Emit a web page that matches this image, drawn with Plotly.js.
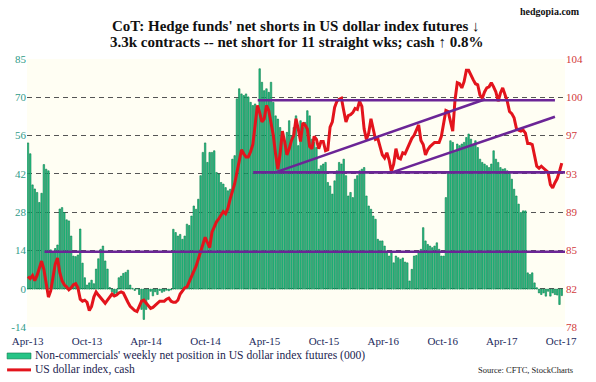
<!DOCTYPE html>
<html>
<head>
<meta charset="utf-8">
<script src="https://cdn.plot.ly/plotly-3.0.1.min.js"></script>
<style>
  html, body { margin: 0; padding: 0; background: #ffffff; }
  #chart { width: 596px; height: 382px; }
</style>
</head>
<body>
<div id="chart"></div>
<script>
// ---- DATA ----
const startDate = '2013-04-02';   // first weekly observation (Tuesday)

// Non-commercials' weekly net position in US dollar index futures (000 contracts)
const netPosition = [
  54, 50, 38.5, 37, 35.7, 32, 35.4, 46, 44.3, 43.7, 14.5, 13.8, 15, 16.3, 29.6, 30.1, 28.3, 25.6, 25.2, 19.6,
  12.2, 12, 12.6, 22.2, 9.6, 4.2, 1.5, 2.3, 3.3, 2, 7.4, 11.2, 14.7, 15.9, 10.4, 7.4, 0.6, -1, -2.6,
  -1.5, 4.2, 4.8, 5.8, 6.2, 7.0, 1.5, 0.3, -0.5, 0.2, -2, -7.5, -11.2, -7.5, -3.8, -0.8, -2.5, -1, -2, -0.5,
  -1.2, -0.8, -0.4, -0.6, -0.3, 22.1, 20.9, 19.6, 20.2, 18.4, 19.6, 24, 23.5, 27, 30.7, 29.5, 33.2, 41.9, 50.5, 54,
  46.8, 50.5, 50.5, 51.1, 43.1, 42.5, 39.4, 38.8, 37.5, 36.3, 36.9, 48, 49.3, 70.3, 74, 72.1, 71.5, 72.1, 71, 69,
  67.8, 68.4, 66.5, 81.4, 76.4, 73.3, 74, 72.7, 76.4, 69, 64, 62.8, 59.7, 55.4, 54.2, 57.9, 62.2, 56.7, 59.7, 64,
  53, 62.2, 59.7, 61.6, 65.9, 64, 55.4, 54.2, 52.3, 44.3, 45.6, 46.2, 46.8, 39.4, 38.1, 35.1, 40, 43.7, 46.8, 46.2,
  48, 41.9, 34.4, 35.7, 33.8, 40.6, 41.9, 43.7, 44.3, 44.9, 34.4, 30.7, 29.5, 27, 25.8, 18.4, 17.8, 17.8, 15.9,
  13.5, 12.2, 13.5, 9.7, 12.2, 11.6, 11, 11.5, 10, 9.7, 3, 7.3, 12.2, 12.4, 13.5, 14.7, 22.7, 17.8, 16.5, 15.9,
  15.3, 15.9, 17.1, 14.7, 12.2, 12.2, 33.8, 43.1, 54.8, 54.2, 50.5, 53.6, 53, 53.6, 54.2, 56, 57.3, 55.4, 53.6, 54.8,
  52.3, 48, 46.8, 46.2, 45.6, 44.9, 46.2, 51.1, 48, 46.8, 44.9, 44.3, 44.5, 43.7, 43.1, 40.6, 36.9, 34.4, 31.4, 28.3,
  28.9, 28.9, 6, 5.4, 6, 2.3, 0.5, -1.4, -2, -1.4, -2.6, -0.8, -2.6, -1.4, -2, -2.2, -5.7, -2.4
];

// US dollar index, cash (weekly)
const dollarIndex = [
  82.9, 82.7, 83.0, 82.5, 83.0, 83.7, 84.4, 83.6, 82.0, 80.9, 81.5, 83.0, 84.1, 84.7, 83.3, 82.5, 82.1, 81.9, 81.6, 81.8,
  82.1, 82.2, 81.8, 80.7, 80.5, 80.6, 80.4, 79.6, 80.0, 80.9, 81.4, 81.1, 80.8, 80.5, 80.3, 80.6, 80.9, 81.2, 81.0,
  81.1, 81.3, 81.4, 81.3, 80.8, 80.4, 80.0, 79.8, 79.6, 79.5, 80.1, 80.5, 80.6, 80.3, 80.0, 79.8, 79.9, 80.1, 80.3, 80.5,
  80.5, 80.5, 80.7, 80.8, 80.5, 80.4, 80.4, 80.6, 81.2, 81.5, 81.8, 81.9, 82.4, 82.8, 83.3, 83.9, 84.6, 85.3, 86.0, 86.7,
  86.2, 85.7, 87.2, 87.8, 88.2, 88.5, 88.8, 89.2, 89.0, 89.5, 90.4, 91.2, 91.9, 93.0, 94.3, 95.2, 94.8, 94.5, 94.5, 95.0,
  95.7, 97.8, 99.5, 98.8, 97.9, 98.2, 99.5, 99.0, 97.9, 96.6, 94.8, 93.3, 94.8, 97.0, 96.0, 94.7, 95.3, 96.1, 96.6, 98.2,
  97.2, 96.0, 97.8, 97.6, 97.2, 95.5, 95.3, 96.5, 96.2, 95.3, 96.0, 96.0, 95.1, 95.2, 97.4, 97.9, 99.3, 99.9, 100.1, 100.2,
  99.0, 97.9, 98.5, 98.6, 98.8, 99.2, 99.1, 99.9, 99.4, 97.2, 96.2, 96.8, 98.2, 97.2, 96.2, 96.3, 95.6, 94.7, 94.4,
  94.9, 94.2, 93.1, 93.8, 95.3, 94.4, 94.3, 94.9, 94.8, 95.3, 95.9, 96.3, 96.6, 97.1, 97.6, 96.1, 95.7, 94.7, 95.2, 95.5,
  95.7, 95.9, 95.9, 95.9, 96.5, 97.8, 99.0, 98.9, 98.0, 97.0, 100.0, 101.7, 101.6, 101.2, 101.8, 102.9, 102.9, 102.4, 102.0, 101.6,
  101.5, 100.5, 100.2, 100.8, 101.2, 101.3, 101.7, 101.3, 100.8, 99.9, 100.7, 101.2, 100.5, 99.9, 98.9, 98.7, 98.3, 97.3, 97.1, 97.0,
  97.1, 96.8, 95.8, 95.8, 95.7, 94.7, 93.6, 93.4, 93.6, 93.4, 93.2, 93.0, 91.8, 91.5, 92.0, 92.4, 93.1, 93.9
];

// Trend / support / resistance lines drawn on the dollar index (dates, values)
const supportLowDates   = ['2013-05-23', '2017-10-13'];
const supportLowValues  = [85.3, 85.3];
const support93Dates    = ['2015-02-25', '2017-10-13'];
const support93Values   = [93.0, 93.0];
const resist100Dates    = ['2015-03-11', '2017-09-12'];
const resist100Values   = [100.0, 100.0];
const channelUpperDates = ['2015-05-09', '2017-02-09'];
const channelUpperValues= [93.05, 100.1];
const channelLowerDates = ['2016-04-28', '2017-09-12'];
const channelLowerValues= [93.0, 98.4];

// Axis tick labels
const xTickVals = ['2013-04-01','2013-10-01','2014-04-01','2014-10-01','2015-04-01','2015-10-01','2016-04-01','2016-10-01','2017-04-01','2017-10-01'];
const xTickText = ['Apr-13','Oct-13','Apr-14','Oct-14','Apr-15','Oct-15','Apr-16','Oct-16','Apr-17','Oct-17'];
const leftTickVals  = [-14, 0.143, 14.286, 28.429, 42.571, 56.714, 70.857, 85];
const leftTickText  = ['-14','0','14','28','42','56','70','85'];
const rightTickVals = [78, 81.714, 85.429, 89.143, 92.857, 96.571, 100.286, 104];
const rightTickText = ['78','82','85','89','93','97','100','104'];

// ---- BUILD ----
function weeklyDates(start, n) {
  const out = [];
  const d0 = new Date(start + 'T00:00:00Z');
  for (let i = 0; i < n; i++) {
    const d = new Date(d0.getTime() + i * 7 * 86400000);
    out.push(d.toISOString().slice(0, 10));
  }
  return out;
}
const barDates = weeklyDates(startDate, netPosition.length);
const lineDates = weeklyDates(startDate, dollarIndex.length);

const serif = 'Liberation Serif, Times New Roman, serif';
const purple = '#6b2596';

function purpleLine(xs, ys) {
  return { type: 'scatter', mode: 'lines', x: xs, y: ys, yaxis: 'y2',
           line: { color: purple, width: 2.6 }, hoverinfo: 'skip', showlegend: false };
}

const traces = [
  { type: 'bar', x: barDates, y: netPosition, yaxis: 'y',
    marker: { color: '#25c486', line: { color: '#0b7a4c', width: 0.6 } },
    name: "Non-commercials' weekly net position in US dollar index futures (000)", showlegend: false },
  { type: 'scatter', mode: 'lines', x: lineDates, y: dollarIndex, yaxis: 'y2',
    line: { color: '#e3141c', width: 3 }, name: 'US dollar index, cash', showlegend: false },
  purpleLine(supportLowDates, supportLowValues),
  purpleLine(support93Dates, support93Values),
  purpleLine(resist100Dates, resist100Values),
  purpleLine(channelUpperDates, channelUpperValues),
  purpleLine(channelLowerDates, channelLowerValues)
];

const annText = (text, x, y, size, opts) => Object.assign({
  text: text, x: x, y: y, xref: 'paper', yref: 'paper', showarrow: false,
  font: { family: serif, size: size, color: '#111' }
}, opts || {});

const layout = {
  width: 596, height: 382,
  margin: { l: 27, r: 31, t: 59, b: 55 },
  paper_bgcolor: '#ffffff',
  plot_bgcolor: '#fffef3',
  bargap: 0.35,
  showlegend: false,
  xaxis: {
    type: 'date', range: ['2013-03-30', '2017-10-13'],
    tickvals: xTickVals, ticktext: xTickText,
    showgrid: false, zeroline: false, showline: false, ticks: '',
    ticklabelstandoff: 6,
    tickfont: { family: serif, size: 11, color: '#1c2a5c' }
  },
  yaxis: {
    range: [-14, 85], tickvals: leftTickVals, ticktext: leftTickText,
    showgrid: true, gridcolor: '#555555', griddash: '5px,4px', gridwidth: 1,
    zeroline: false, showline: false, ticks: '',
    tickfont: { family: serif, size: 11, color: '#2f9b88' }
  },
  yaxis2: {
    range: [78, 104], tickvals: rightTickVals, ticktext: rightTickText,
    overlaying: 'y', side: 'right', showgrid: false, zeroline: false, showline: false, ticks: '',
    tickfont: { family: serif, size: 11, color: '#d23a3a' }
  },
  shapes: [
    { type: 'rect', xref: 'paper', yref: 'paper', x0: -0.037, x1: 0.0074, y0: -0.097, y1: -0.119,
      fillcolor: '#25c486', line: { color: '#0b7a4c', width: 0.6 } },
    { type: 'line', xref: 'paper', yref: 'paper', x0: -0.037, x1: 0.0074, y0: -0.160, y1: -0.160,
      line: { color: '#e3141c', width: 3 } }
  ],
  annotations: [
    annText('<b>CoT: Hedge funds\' net shorts in US dollar index futures ↓</b>', 0.5, 1.123, 15, { xanchor: 'center', yanchor: 'middle' }),
    annText('<b>3.3k contracts -- net short for 11 straight wks; cash ↑ 0.8%</b>', 0.5, 1.065, 15, { xanchor: 'center', yanchor: 'middle' }),
    annText('<b>hedgopia.com</b>', 0.972, 1.179, 10, { xanchor: 'center', yanchor: 'middle' }),
    annText("Non-commercials' weekly net position in US dollar index futures (000)", 0.0112, -0.108, 11.6, { xanchor: 'left', yanchor: 'middle', font: { family: serif, size: 11.6, color: '#1c2550' } }),
    annText('US dollar index, cash', 0.0112, -0.160, 11.6, { xanchor: 'left', yanchor: 'middle', font: { family: serif, size: 11.6, color: '#1c2550' } }),
    annText('Source: CFTC, StockCharts', 1.0186, -0.160, 8.5, { xanchor: 'right', yanchor: 'middle', font: { family: serif, size: 8.5, color: '#222' } })
  ]
};

Plotly.newPlot('chart', traces, layout, { displayModeBar: false, staticPlot: true });
</script>
</body>
</html>
